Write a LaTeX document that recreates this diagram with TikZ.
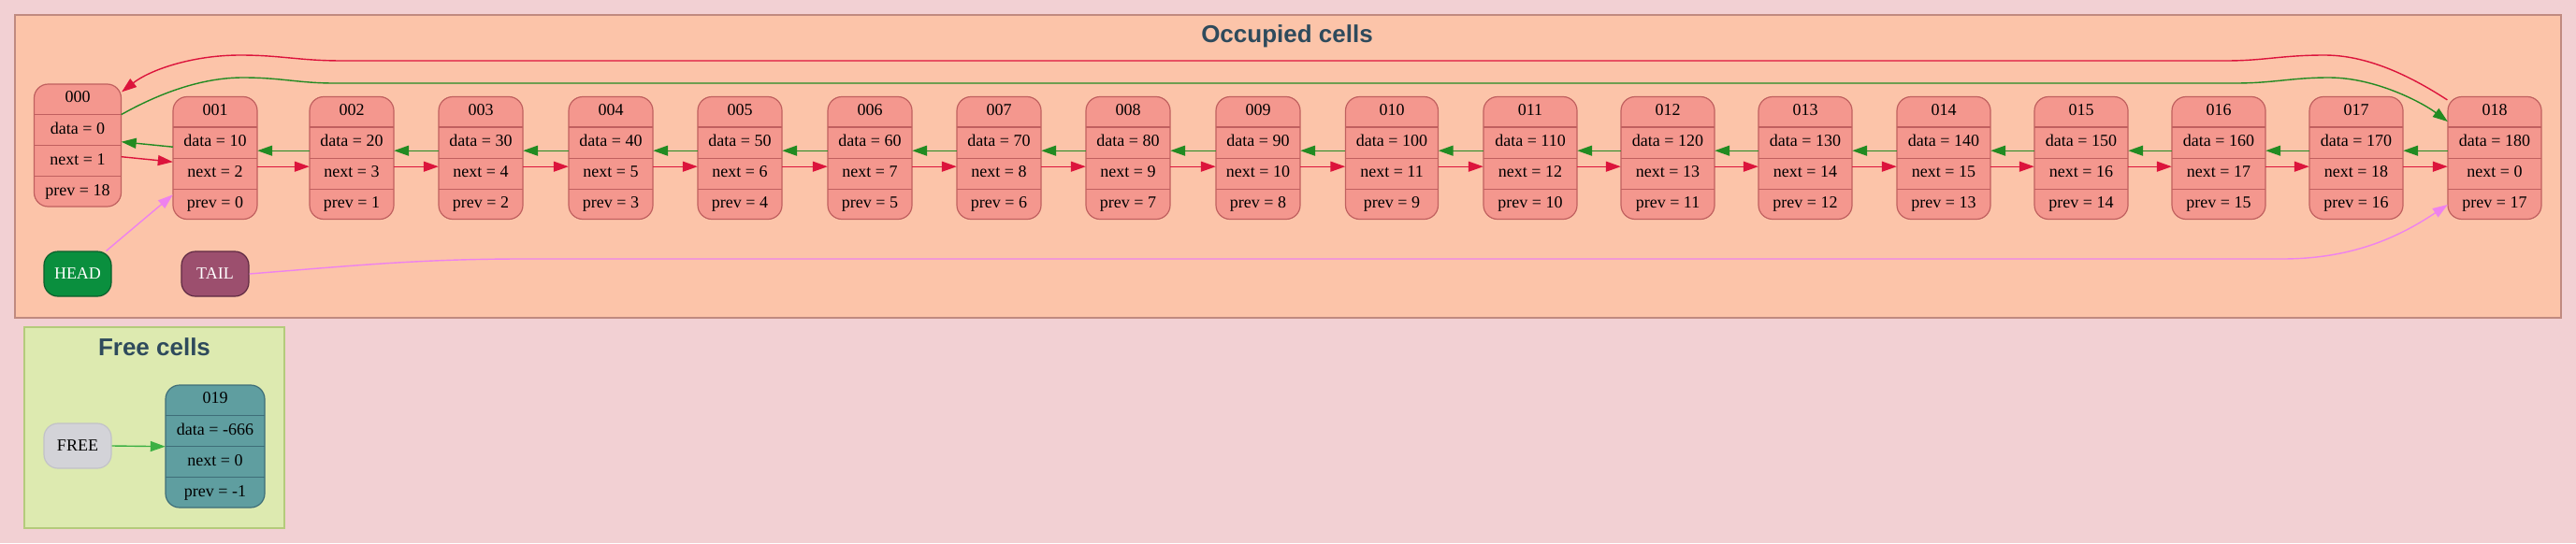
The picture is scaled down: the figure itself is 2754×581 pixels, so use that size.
\documentclass[tikz,border=0pt]{standalone}
\usepackage{fontspec}
\setmainfont{Liberation Serif}
\newfontfamily\titlefont{Liberation Sans}
\usetikzlibrary{arrows.meta}
\definecolor{bgcol}{HTML}{F2D0D3}
\definecolor{occfill}{HTML}{FCC4A9}
\definecolor{occborder}{HTML}{C08A80}
\definecolor{cellfill}{HTML}{F4978E}
\definecolor{cellborder}{HTML}{C0605F}
\definecolor{redcol}{HTML}{DC143C}
\definecolor{greencol}{HTML}{228B22}
\definecolor{violetcol}{HTML}{EE82EE}
\definecolor{headfill}{HTML}{0A8F3E}
\definecolor{headborder}{HTML}{0B5E2B}
\definecolor{tailfill}{HTML}{9C4F6E}
\definecolor{tailborder}{HTML}{5E2A42}
\definecolor{freeclfill}{HTML}{DDEAB0}
\definecolor{freeclborder}{HTML}{B4CB7B}
\definecolor{freecellfill}{HTML}{5F9EA0}
\definecolor{freecellborder}{HTML}{3E6E78}
\definecolor{freenodefill}{HTML}{D3D3D8}
\definecolor{freenodeborder}{HTML}{C2C2C8}
\definecolor{freearrow}{HTML}{3CB043}
\definecolor{titlecol}{HTML}{2E4A5C}
\tikzset{
  occbox/.style={draw=cellborder, fill=cellfill, rounded corners=15pt, line width=1.2pt, minimum height=131pt, inner sep=0pt},
  occsep/.style={draw=cellborder, line width=1.2pt},
  freebox/.style={draw=freecellborder, fill=freecellfill, rounded corners=15pt, line width=1.2pt, minimum height=131pt, inner sep=0pt},
  freesep/.style={draw=freecellborder, line width=1.2pt},
  rowbox/.style={inner sep=0pt, minimum height=32.75pt, font=\fontsize{18}{20}\selectfont, text height=12pt, text depth=4pt},
  ptrbox/.style={rounded corners=15pt, line width=1.2pt, minimum width=72pt, minimum height=48pt, inner sep=0pt, font=\fontsize{18}{20}\selectfont},
  cluster/.style={line width=1.6pt},
  cltitle/.style={font=\titlefont\bfseries\fontsize{26}{30}\selectfont, text=titlecol, anchor=base, inner sep=0pt},
  arr/.style={line width=1.4pt, -{Triangle[length=16pt,width=11pt]}},
  nextarrow/.style={arr, draw=redcol},
  prevarrow/.style={arr, draw=greencol},
  ptrarrow/.style={arr, draw=violetcol},
  freeptr/.style={arr, draw=freearrow},
}
\newcommand{\mkcell}[9]{%
  \node[#9box, minimum width=#4pt] (#1) at (#2,#3) {};
  \node[rowbox, minimum width=#4pt, anchor=north] (#1-t) at (#1.north) {#5};
  \node[rowbox, minimum width=#4pt, anchor=north] (#1-d) at (#1-t.south) {data = #6};
  \node[rowbox, minimum width=#4pt, anchor=north] (#1-n) at (#1-d.south) {next = #7};
  \node[rowbox, minimum width=#4pt, anchor=north] (#1-p) at (#1-n.south) {prev = #8};
  \draw[#9sep] (#1-t.south west) -- (#1-t.south east);
  \draw[#9sep] (#1-d.south west) -- (#1-d.south east);
  \draw[#9sep] (#1-n.south west) -- (#1-n.south east);
}
\begin{document}
\begin{tikzpicture}[x=1pt,y=-1pt]
\useasboundingbox (0,0) rectangle (2754,581);
\fill[bgcol] (0,0) rectangle (2754,581);
% clusters
\draw[cluster, fill=occfill, draw=occborder] (16,16) rectangle (2738,340);
\node[cltitle] (occtitle) at (1376,45) {Occupied cells};
\draw[cluster, fill=freeclfill, draw=freeclborder] (26,350) rectangle (304,565);
\node[cltitle] (freetitle) at (165,380) {Free cells};
% cells
\mkcell{n0}{83}{155.5}{93}{000}{0}{1}{18}{occ}
\mkcell{n1}{230}{169}{90}{001}{10}{2}{0}{occ}
\mkcell{n2}{376}{169}{90}{002}{20}{3}{1}{occ}
\mkcell{n3}{514}{169}{90}{003}{30}{4}{2}{occ}
\mkcell{n4}{653}{169}{90}{004}{40}{5}{3}{occ}
\mkcell{n5}{791}{169}{90}{005}{50}{6}{4}{occ}
\mkcell{n6}{930}{169}{90}{006}{60}{7}{5}{occ}
\mkcell{n7}{1068}{169}{90}{007}{70}{8}{6}{occ}
\mkcell{n8}{1206}{169}{90}{008}{80}{9}{7}{occ}
\mkcell{n9}{1345}{169}{90}{009}{90}{10}{8}{occ}
\mkcell{n10}{1488}{169}{99}{010}{100}{11}{9}{occ}
\mkcell{n11}{1636}{169}{100}{011}{110}{12}{10}{occ}
\mkcell{n12}{1783}{169}{100}{012}{120}{13}{11}{occ}
\mkcell{n13}{1930}{169}{100}{013}{130}{14}{12}{occ}
\mkcell{n14}{2078}{169}{100}{014}{140}{15}{13}{occ}
\mkcell{n15}{2225}{169}{100}{015}{150}{16}{14}{occ}
\mkcell{n16}{2372}{169}{100}{016}{160}{17}{15}{occ}
\mkcell{n17}{2519}{169}{100}{017}{170}{18}{16}{occ}
\mkcell{n18}{2667}{169}{100}{018}{180}{0}{17}{occ}
\mkcell{n19}{230}{477.5}{106}{019}{-666}{0}{-1}{free}
% pointer nodes
\node[ptrbox, fill=headfill, draw=headborder, text=white] (head) at (83,293) {HEAD};
\node[ptrbox, fill=tailfill, draw=tailborder, text=white] (tail) at (230,293) {TAIL};
\node[ptrbox, fill=freenodefill, draw=freenodeborder] (free) at (83,477) {FREE};
% links between neighbours
\draw[nextarrow] ([yshift=-12pt]n0-n.north east) -- ([yshift=-4pt]n1-n.north west);
\draw[prevarrow] ([yshift=12pt]n1-d.south west) -- ([yshift=4pt]n0-d.south east);
\foreach \i in {2,...,18}{%
  \pgfmathtruncatemacro{\j}{\i-1}
  \draw[nextarrow] ([yshift=-9pt]n\j-n.north east) -- ([yshift=-9pt]n\i-n.north west);
  \draw[prevarrow] ([yshift=8pt]n\i-d.south west) -- ([yshift=8pt]n\j-d.south east);
}
% wrap-around links
\draw[nextarrow] ([yshift=-4pt]n18.north west) .. controls (2575,80) and (2530,59) .. (2485,59)
  .. controls (2440,59) and (2420,65) .. (2380,65) -- (366,65)
  .. controls (320,65) and (300,59) .. (257,59)
  .. controls (205,59) and (160,75) .. ([yshift=-9pt]n0.north east);
\draw[prevarrow] (n0-t.south east) .. controls (170,100) and (215,83) .. (260,83)
  .. controls (300,83) and (320,89) .. (357,89) -- (2390,89)
  .. controls (2430,89) and (2450,83) .. (2490,83)
  .. controls (2540,83) and (2590,110) .. ([yshift=6pt]n18-t.south west);
% head, tail, free
\draw[ptrarrow] ([xshift=-6pt]head.north east) -- ([yshift=-6pt]n1-p.north west);
\draw[ptrarrow] (tail.east) .. controls (380,284) and (450,277) .. (560,277) -- (2440,277)
  .. controls (2520,277) and (2570,250) .. (n18-p.west);
\draw[freeptr] (free.east) -- (n19-d.south west);
\end{tikzpicture}
\end{document}
